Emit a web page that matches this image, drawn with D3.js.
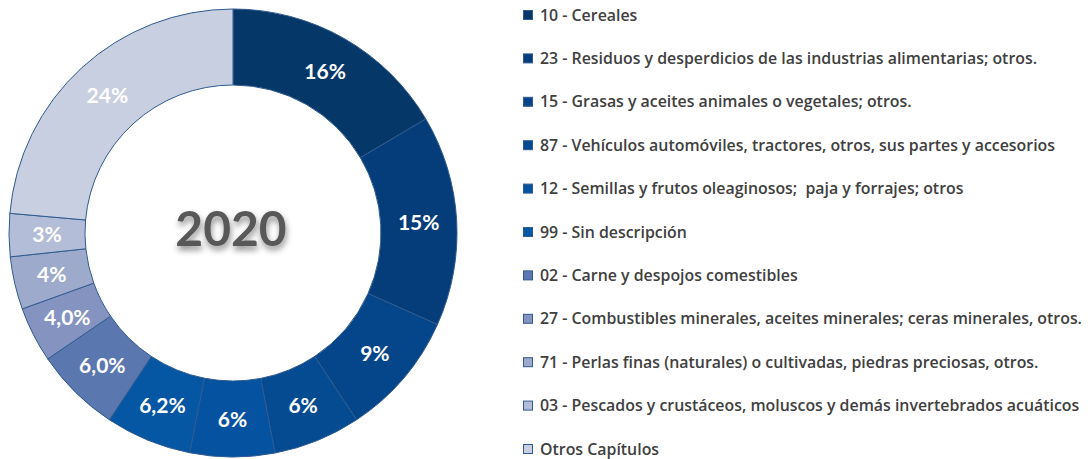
<!DOCTYPE html>
<html>
<head>
<meta charset="utf-8">
<script src="https://cdn.jsdelivr.net/npm/d3@7"></script>
<style>
  body { margin: 0; background: #fff; }
  svg { display: block; }
</style>
</head>
<body>
<div id="chart"></div>
<script>
// Data
const categories = [
  '10 - Cereales',
  '23 - Residuos y desperdicios de las industrias alimentarias; otros.',
  '15 - Grasas y aceites animales o vegetales; otros.',
  '87 - Vehículos automóviles, tractores, otros, sus partes y accesorios',
  '12 - Semillas y frutos oleaginosos;  paja y forrajes; otros',
  '99 - Sin descripción',
  '02 - Carne y despojos comestibles',
  '27 - Combustibles minerales, aceites minerales; ceras minerales, otros.',
  '71 - Perlas finas (naturales) o cultivadas, piedras preciosas, otros.',
  '03 - Pescados y crustáceos, moluscos y demás invertebrados acuáticos',
  'Otros Capítulos'
];
const shares = [16.5, 15.2, 9.0, 6.3, 6.1, 6.2, 6.2, 4.0, 3.8, 3.1, 23.6];
const labels = ['16%', '15%', '9%', '6%', '6%', '6,2%', '6,0%', '4,0%', '4%', '3%', '24%'];
const colors = ['#063769', '#043d7a', '#05468a', '#044b92', '#0452a0', '#0556a3',
  '#5b77af', '#8593c0', '#9eaacc', '#b3bdd7', '#c8cfe1'];
const centerTitle = '2020';

// Canvas
const width = 1088;
const height = 459;

const svg = d3.select('#chart')
  .append('svg')
  .attr('width', width)
  .attr('height', height);

const defs = svg.append('defs');
const shadow = defs.append('filter')
  .attr('id', 'shadow')
  .attr('x', '-20%').attr('y', '-20%')
  .attr('width', '140%').attr('height', '160%');
shadow.append('feDropShadow')
  .attr('dx', 1).attr('dy', 4)
  .attr('stdDeviation', 3)
  .attr('flood-color', '#000')
  .attr('flood-opacity', 0.45);

// Donut
const cx = 233;
const cy = 233;
const outerR = 224;
const innerR = 148;

const data = categories.map((c, i) => ({ c, v: shares[i], label: labels[i], color: colors[i] }));

const pie = d3.pie().value((d) => d.v).sort(null);
const arc = d3.arc().innerRadius(innerR).outerRadius(outerR);

const donut = svg.append('g').attr('transform', `translate(${cx}, ${cy})`);

donut.selectAll('path')
  .data(pie(data))
  .enter()
  .append('path')
  .attr('d', arc)
  .attr('fill', (d) => d.data.color)
  .attr('stroke', '#2f5b8f')
  .attr('stroke-width', 1);

donut.selectAll('text')
  .data(pie(data))
  .enter()
  .append('text')
  .attr('transform', (d) => `translate(${arc.centroid(d)})`)
  .attr('text-anchor', 'middle')
  .attr('dy', '0.36em')
  .attr('fill', '#fff')
  .attr('font-family', 'Lato, "Open Sans", sans-serif')
  .attr('font-weight', 'bold')
  .attr('font-size', 21)
  .text((d) => d.data.label);

// Center title
svg.append('text')
  .attr('x', cx - 2)
  .attr('y', 229)
  .attr('text-anchor', 'middle')
  .attr('dy', '0.36em')
  .attr('fill', '#595959')
  .attr('font-family', 'Lato, "Open Sans", sans-serif')
  .attr('font-weight', 'bold')
  .attr('font-size', 48)
  .attr('filter', 'url(#shadow)')
  .text(centerTitle);

// Legend
const legendY = d3.scalePoint().domain(categories).range([15, 449]);

const legend = svg.append('g');
const rows = legend.selectAll('g')
  .data(data)
  .enter()
  .append('g')
  .attr('transform', (d) => `translate(523, ${legendY(d.c)})`);

rows.append('rect')
  .attr('x', 0.5)
  .attr('y', -4.5)
  .attr('width', 9)
  .attr('height', 9)
  .attr('fill', (d) => d.color)
  .attr('stroke', '#2f5b8f')
  .attr('stroke-width', 1);

rows.append('text')
  .attr('x', 17)
  .attr('dy', '0.35em')
  .attr('fill', '#404040')
  .attr('font-family', '"Open Sans", sans-serif')
  .attr('font-weight', 600)
  .attr('font-size', 15.9)
  .style('white-space', 'pre')
  .text((d) => d.c);
</script>
</body>
</html>
